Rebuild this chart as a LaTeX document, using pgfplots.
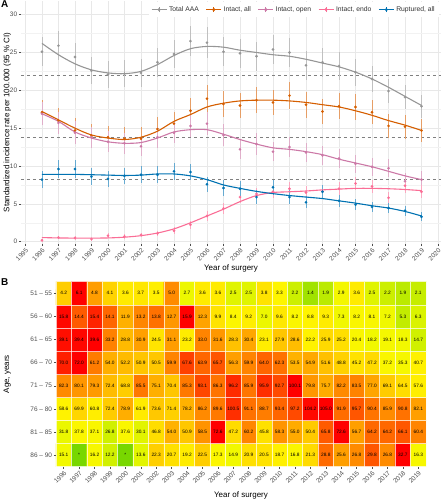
\documentclass[border=0pt]{standalone}
\usepackage{pgfplots}
\pgfplotsset{compat=1.18}
\usepackage{pgfplotstable}
\usepackage{fontspec}
\setmainfont{Liberation Sans}

\definecolor{cgray}{RGB}{150,150,150}
\definecolor{corange}{RGB}{213,94,0}
\definecolor{copen}{RGB}{204,121,167}
\definecolor{cendo}{RGB}{250,110,150}
\definecolor{cblue}{RGB}{0,114,178}
\definecolor{tickgray}{RGB}{77,77,77}
\definecolor{gridc}{RGB}{232,232,232}
\definecolor{gridm}{RGB}{242,242,242}

% yr value halfCI smooth
\pgfplotstableread{
yr v e s
1996 25.1 1.9 26.2
1997 25.9 1.9 24.7
1998 24.4 1.9 23.5
1999 22.6 1.8 22.7
2000 22.1 1.8 22.3
2001 22.2 1.8 22.2
2002 22.3 1.8 22.5
2003 23.7 1.9 23.4
2004 24.8 1.9 24.6
2005 26.5 2.0 25.5
2006 26.3 2.0 25.8
2007 25.1 1.9 25.7
2008 24.9 1.9 25.3
2009 24.5 1.9 25.0
2010 25.4 1.9 24.7
2011 25.0 1.9 24.5
2012 23.3 1.9 24.1
2013 23.7 1.9 23.6
2014 23.2 1.8 23.1
2015 22.4 1.8 22.4
2016 21.5 1.7 21.5
2017 19.9 1.6 20.4
2018 19.1 1.6 19.2
2019 17.9 1.5 18.0
}\total

\pgfplotstableread{
yr v e s
1996 17.1 1.6 17.2
1997 16.0 1.6 16.1
1998 14.7 1.6 15.0
1999 14.0 1.5 14.1
2000 13.8 1.5 13.7
2001 13.6 1.5 13.5
2002 13.6 1.5 13.8
2003 14.9 1.6 14.6
2004 15.6 1.6 15.9
2005 17.3 1.7 16.8
2006 18.9 1.8 17.8
2007 18.2 1.7 18.3
2008 18.0 1.7 18.6
2009 18.7 1.7 18.7
2010 18.4 1.7 18.7
2011 19.3 1.8 18.6
2012 18.1 1.7 18.4
2013 17.2 1.7 18.1
2014 17.9 1.7 17.8
2015 17.8 1.7 17.3
2016 17.1 1.6 16.7
2017 15.3 1.6 16.0
2018 15.2 1.6 15.4
2019 14.7 1.5 14.7
}\intall

\pgfplotstableread{
yr v e s
1996 16.9 1.5 16.9
1997 15.7 1.5 15.9
1998 14.4 1.5 14.5
1999 13.8 1.4 13.7
2000 13.2 1.4 13.2
2001 13.0 1.4 13.0
2002 12.6 1.3 13.1
2003 13.8 1.4 13.7
2004 14.4 1.4 14.5
2005 15.3 1.5 14.8
2006 15.6 1.5 14.8
2007 14.1 1.4 14.2
2008 12.2 1.3 13.5
2009 12.9 1.4 12.9
2010 11.9 1.3 12.4
2011 12.5 1.3 12.2
2012 11.8 1.3 11.9
2013 11.4 1.3 11.5
2014 11.0 1.3 10.9
2015 10.3 1.2 10.4
2016 9.9 1.2 9.9
2017 9.7 1.2 9.3
2018 8.0 1.1 8.7
2019 8.2 1.1 8.2
}\intopen

\pgfplotstableread{
yr v e s
1996 0.2 0.2 0.55
1997 0.55 0.25 0.5
1998 0.5 0.25 0.48
1999 0.35 0.2 0.48
2000 0.8 0.3 0.5
2001 0.7 0.3 0.6
2002 0.9 0.3 0.8
2003 1.1 0.35 1.15
2004 1.45 0.45 1.7
2005 2.25 0.55 2.5
2006 3.4 0.65 3.4
2007 4.4 0.75 4.3
2008 5.9 0.8 5.3
2009 6.3 0.85 6.1
2010 6.6 0.85 6.5
2011 7.0 0.85 6.6
2012 6.5 0.85 6.7
2013 6.65 0.85 6.85
2014 7.0 0.85 6.95
2015 7.7 0.9 7.05
2016 7.3 0.9 7.05
2017 5.8 0.8 7.0
2018 7.4 0.9 6.9
2019 6.6 0.85 6.75
}\intendo

\pgfplotstableread{
yr v e s
1996 8.2 1.1 8.9
1997 9.6 1.2 8.9
1998 9.6 1.2 8.9
1999 8.6 1.1 8.85
2000 8.3 1.1 8.8
2001 8.7 1.1 8.75
2002 8.85 1.1 8.8
2003 8.85 1.1 8.95
2004 9.3 1.1 8.95
2005 9.2 1.1 8.7
2006 7.6 1.0 8.2
2007 7.1 1.0 7.5
2008 7.0 1.0 7.05
2009 5.9 0.9 6.65
2010 7.2 1.0 6.35
2011 5.9 0.9 6.1
2012 5.2 0.8 5.9
2013 6.6 0.9 5.7
2014 5.4 0.8 5.4
2015 4.9 0.7 5.1
2016 4.6 0.7 4.75
2017 4.45 0.7 4.45
2018 4.1 0.65 4.0
2019 3.3 0.6 3.4
}\rupt

% x=year, y=age group (1 = 86-90 ... 8 = 51-55), v=value, m=row max, lab=label
\pgfplotstableread{
x y v m lab
1996 1 15.1 32.7 15.1
1997 1 0 32.7 *
1998 1 16.2 32.7 16.2
1999 1 12.2 32.7 12.2
2000 1 0 32.7 *
2001 1 13.6 32.7 13.6
2002 1 22.3 32.7 22.3
2003 1 20.7 32.7 20.7
2004 1 19.2 32.7 19.2
2005 1 22.5 32.7 22.5
2006 1 17.3 32.7 17.3
2007 1 14.9 32.7 14.9
2008 1 20.9 32.7 20.9
2009 1 20.5 32.7 20.5
2010 1 18.7 32.7 18.7
2011 1 16.8 32.7 16.8
2012 1 21.3 32.7 21.3
2013 1 28.8 32.7 28.8
2014 1 25.6 32.7 25.6
2015 1 26.8 32.7 26.8
2016 1 29.8 32.7 29.8
2017 1 26.8 32.7 26.8
2018 1 32.7 32.7 32.7
2019 1 16.3 32.7 16.3
1996 2 31.8 72.6 31.8
1997 2 37.8 72.6 37.8
1998 2 37.1 72.6 37.1
1999 2 26.8 72.6 26.8
2000 2 37.6 72.6 37.6
2001 2 30.1 72.6 30.1
2002 2 46.8 72.6 46.8
2003 2 54.0 72.6 54.0
2004 2 50.9 72.6 50.9
2005 2 58.5 72.6 58.5
2006 2 72.6 72.6 72.6
2007 2 47.2 72.6 47.2
2008 2 60.2 72.6 60.2
2009 2 45.8 72.6 45.8
2010 2 58.3 72.6 58.3
2011 2 55.0 72.6 55.0
2012 2 50.4 72.6 50.4
2013 2 65.8 72.6 65.8
2014 2 72.6 72.6 72.6
2015 2 56.7 72.6 56.7
2016 2 64.2 72.6 64.2
2017 2 64.2 72.6 64.2
2018 2 66.1 72.6 66.1
2019 2 60.4 72.6 60.4
1996 3 58.6 105.0 58.6
1997 3 69.9 105.0 69.9
1998 3 60.8 105.0 60.8
1999 3 72.4 105.0 72.4
2000 3 78.9 105.0 78.9
2001 3 61.9 105.0 61.9
2002 3 73.6 105.0 73.6
2003 3 71.4 105.0 71.4
2004 3 78.2 105.0 78.2
2005 3 86.2 105.0 86.2
2006 3 89.6 105.0 89.6
2007 3 100.5 105.0 100.5
2008 3 91.1 105.0 91.1
2009 3 88.7 105.0 88.7
2010 3 93.4 105.0 93.4
2011 3 97.2 105.0 97.2
2012 3 104.2 105.0 104.2
2013 3 105.0 105.0 105.0
2014 3 91.9 105.0 91.9
2015 3 95.7 105.0 95.7
2016 3 90.4 105.0 90.4
2017 3 85.9 105.0 85.9
2018 3 90.8 105.0 90.8
2019 3 82.1 105.0 82.1
1996 4 82.3 100.1 82.3
1997 4 80.1 100.1 80.1
1998 4 79.3 100.1 79.3
1999 4 72.4 100.1 72.4
2000 4 68.8 100.1 68.8
2001 4 85.5 100.1 85.5
2002 4 75.1 100.1 75.1
2003 4 70.4 100.1 70.4
2004 4 85.3 100.1 85.3
2005 4 93.1 100.1 93.1
2006 4 86.3 100.1 86.3
2007 4 96.2 100.1 96.2
2008 4 85.9 100.1 85.9
2009 4 95.9 100.1 95.9
2010 4 92.7 100.1 92.7
2011 4 100.1 100.1 100.1
2012 4 79.8 100.1 79.8
2013 4 75.7 100.1 75.7
2014 4 82.2 100.1 82.2
2015 4 83.5 100.1 83.5
2016 4 77.0 100.1 77.0
2017 4 69.1 100.1 69.1
2018 4 64.5 100.1 64.5
2019 4 57.6 100.1 57.6
1996 5 70.0 72.0 70.0
1997 5 72.0 72.0 72.0
1998 5 61.2 72.0 61.2
1999 5 54.0 72.0 54.0
2000 5 52.2 72.0 52.2
2001 5 50.9 72.0 50.9
2002 5 50.5 72.0 50.5
2003 5 59.9 72.0 59.9
2004 5 67.6 72.0 67.6
2005 5 63.9 72.0 63.9
2006 5 65.7 72.0 65.7
2007 5 56.3 72.0 56.3
2008 5 59.9 72.0 59.9
2009 5 64.0 72.0 64.0
2010 5 62.3 72.0 62.3
2011 5 53.5 72.0 53.5
2012 5 54.9 72.0 54.9
2013 5 51.6 72.0 51.6
2014 5 48.8 72.0 48.8
2015 5 45.2 72.0 45.2
2016 5 47.2 72.0 47.2
2017 5 37.2 72.0 37.2
2018 5 35.3 72.0 35.3
2019 5 40.7 72.0 40.7
1996 6 39.1 39.6 39.1
1997 6 39.4 39.6 39.4
1998 6 39.6 39.6 39.6
1999 6 33.2 39.6 33.2
2000 6 28.8 39.6 28.8
2001 6 30.9 39.6 30.9
2002 6 24.5 39.6 24.5
2003 6 31.1 39.6 31.1
2004 6 23.2 39.6 23.2
2005 6 33.0 39.6 33.0
2006 6 31.6 39.6 31.6
2007 6 28.3 39.6 28.3
2008 6 30.4 39.6 30.4
2009 6 23.1 39.6 23.1
2010 6 27.9 39.6 27.9
2011 6 28.6 39.6 28.6
2012 6 22.2 39.6 22.2
2013 6 25.9 39.6 25.9
2014 6 25.2 39.6 25.2
2015 6 20.4 39.6 20.4
2016 6 18.2 39.6 18.2
2017 6 19.1 39.6 19.1
2018 6 18.3 39.6 18.3
2019 6 14.7 39.6 14.7
1996 7 15.8 15.9 15.8
1997 7 14.4 15.9 14.4
1998 7 15.4 15.9 15.4
1999 7 14.1 15.9 14.1
2000 7 11.9 15.9 11.9
2001 7 13.2 15.9 13.2
2002 7 13.8 15.9 13.8
2003 7 12.7 15.9 12.7
2004 7 15.9 15.9 15.9
2005 7 12.3 15.9 12.3
2006 7 9.9 15.9 9.9
2007 7 8.4 15.9 8.4
2008 7 9.2 15.9 9.2
2009 7 7.0 15.9 7.0
2010 7 9.6 15.9 9.6
2011 7 8.2 15.9 8.2
2012 7 8.8 15.9 8.8
2013 7 9.3 15.9 9.3
2014 7 7.3 15.9 7.3
2015 7 8.2 15.9 8.2
2016 7 8.1 15.9 8.1
2017 7 7.2 15.9 7.2
2018 7 5.3 15.9 5.3
2019 7 6.3 15.9 6.3
1996 8 4.2 6.1 4.2
1997 8 6.1 6.1 6.1
1998 8 4.8 6.1 4.8
1999 8 4.1 6.1 4.1
2000 8 3.6 6.1 3.6
2001 8 3.7 6.1 3.7
2002 8 3.5 6.1 3.5
2003 8 5.0 6.1 5.0
2004 8 2.7 6.1 2.7
2005 8 3.6 6.1 3.6
2006 8 3.6 6.1 3.6
2007 8 2.5 6.1 2.5
2008 8 2.5 6.1 2.5
2009 8 3.8 6.1 3.8
2010 8 3.3 6.1 3.3
2011 8 2.2 6.1 2.2
2012 8 1.4 6.1 1.4
2013 8 1.9 6.1 1.9
2014 8 2.9 6.1 2.9
2015 8 3.6 6.1 3.6
2016 8 2.5 6.1 2.5
2017 8 2.2 6.1 2.2
2018 8 1.9 6.1 1.9
2019 8 2.1 6.1 2.1
}\heat

\pgfplotsset{
  common/.style={
    axis x line*=bottom, axis y line*=left,
    axis line style={draw=none},
    tick align=outside, major tick length=2.2bp, minor tick length=0bp,
    tick style={draw=tickgray, line width=0.5bp},
    /pgf/number format/1000 sep={},
    /pgf/number format/assume math mode=true,
    ticklabel style={font=\fontsize{6.5}{7}\selectfont, text=tickgray},
    xticklabel style={rotate=45, anchor=north east, inner sep=1bp},
    yticklabel style={inner sep=1.5bp},
    label style={font=\fontsize{8}{9}\selectfont, text=black},
  },
  pr/.style={only marks, color=#1, mark=*, mark size=1.3bp,
    mark options={draw=#1, fill=#1, line width=0.1bp},
    error bars/.cd, y dir=both, y explicit, error mark=none,
    error bar style={line width=0.9bp, color=#1!60}},
  sm/.style={smooth, no marks, line width=1.1bp, color=#1},
}

\begin{document}
\begin{tikzpicture}
\useasboundingbox (0bp,0bp) rectangle (443bp,500bp);

\begin{axis}[common,
  at={(21bp,256bp)}, anchor=south west,
  scale only axis, width=420bp, height=243bp,
  xmin=1994.73, xmax=2020.18, ymin=-0.3, ymax=31.8,
  xtick={1995,...,2020}, ytick={0,5,...,30},
  minor x tick num=1, minor y tick num=1,
  xmajorgrids, ymajorgrids, xminorgrids, yminorgrids,
  major grid style={draw=gridc, line width=0.55bp},
  minor grid style={draw=gridm, line width=0.3bp},
  xlabel={Year of surgery},
  xlabel style={at={(axis description cs:0.5,0)}, anchor=north, yshift=-17bp},
  ylabel={Standardized incidence rate per 100.000 (95 \% CI)},
  ylabel style={at={(axis description cs:-0.05,0.5)}, anchor=north},
  legend style={at={(0.995,0.995)}, anchor=north east, draw=none, fill=white,
    inner sep=2bp, font=\fontsize{6.8}{8}\selectfont, text=black!80,
    /tikz/every even column/.append style={column sep=5bp}},
  legend columns=5,
  legend image code/.code={
    \draw[#1, line width=0.9bp] (0bp,0bp) -- (15bp,0bp);
    \draw[#1, line width=0.6bp] (7.5bp,-2.5bp) -- (7.5bp,2.5bp);
    \fill[#1] (7.5bp,0bp) circle (1.4bp);
  },
]
\addlegendimage{color=cgray}\addlegendentry{Total AAA}
\addlegendimage{color=corange}\addlegendentry{Intact, all}
\addlegendimage{color=copen}\addlegendentry{Intact, open}
\addlegendimage{color=cendo}\addlegendentry{Intact, endo}
\addlegendimage{color=cblue}\addlegendentry{Ruptured, all}

\draw[dashed, color=black!50, line width=0.5bp] (axis cs:1994.73,22.0) -- (axis cs:2020.18,22.0);
\draw[dashed, color=black!50, line width=0.5bp] (axis cs:1994.73,13.8) -- (axis cs:2020.18,13.8);
\draw[dashed, color=black!50, line width=0.5bp] (axis cs:1994.73,8.25) -- (axis cs:2020.18,8.25);

\addplot[forget plot, pr=cgray] table[x=yr, y=v, y error=e] {\total};
\addplot[forget plot, pr=corange] table[x=yr, y=v, y error=e] {\intall};
\addplot[forget plot, pr=copen] table[x=yr, y=v, y error=e] {\intopen};
\addplot[forget plot, pr=cendo] table[x=yr, y=v, y error=e] {\intendo};
\addplot[forget plot, pr=cblue] table[x=yr, y=v, y error=e] {\rupt};

\addplot[forget plot, sm=cgray] table[x=yr, y=s] {\total};
\addplot[forget plot, sm=corange] table[x=yr, y=s] {\intall};
\addplot[forget plot, sm=copen] table[x=yr, y=s] {\intopen};
\addplot[forget plot, sm=cendo] table[x=yr, y=s] {\intendo};
\addplot[forget plot, sm=cblue] table[x=yr, y=s] {\rupt};
\end{axis}

\begin{axis}[common,
  at={(56bp,33.3bp)}, anchor=south west,
  scale only axis, width=370bp, height=185bp,
  xmin=1995.5, xmax=2019.5, ymin=0.5, ymax=8.5,
  xtick={1996,...,2019}, ytick={1,...,8},
  yticklabels={86 -- 90, 81 -- 85, 76 -- 80, 71 -- 75, 66 -- 70, 61 -- 65, 56 -- 60, 51 -- 55},
  minor xtick={1995.5,1996.5,...,2019.5}, minor ytick={0.5,1.5,...,8.5},
  xminorgrids, yminorgrids,
  minor grid style={draw=white, line width=0.5bp, opacity=0.7},
  axis on top,
  colormap={heat}{rgb255(0cm)=(120,215,0) rgb255(25cm)=(165,228,0) rgb255(35cm)=(200,238,0)
    rgb255(45cm)=(240,248,0) rgb255(55cm)=(255,245,0) rgb255(65cm)=(255,220,0)
    rgb255(70cm)=(255,200,0) rgb255(80cm)=(255,150,0) rgb255(90cm)=(255,95,0)
    rgb255(95cm)=(255,55,0) rgb255(100cm)=(255,0,0)},
  point meta min=0, point meta max=1,
  xlabel={Year of surgery},
  xlabel style={at={(axis description cs:0.5,0)}, anchor=north, yshift=-22bp},
  ylabel={Age, years},
  ylabel style={at={(axis description cs:-0.151,0.5)}, anchor=north},
]
\addplot[matrix plot*, mesh/cols=24, mesh/rows=8, point meta={\thisrow{v}/\thisrow{m}}]
  table[x=x, y=y] {\heat};
\addplot[only marks, mark=none, point meta=explicit symbolic,
  nodes near coords, nodes near coords align={center},
  every node near coord/.append style={font=\fontsize{4.8}{5}\selectfont, text=black, inner sep=0bp}]
  table[x=x, y=y, meta=lab] {\heat};
\end{axis}

\node[anchor=base west, inner sep=0bp, font=\fontsize{10}{11}\selectfont\bfseries] at (1bp,492bp) {A};
\node[anchor=base west, inner sep=0bp, font=\fontsize{10}{11}\selectfont\bfseries] at (1bp,214bp) {B};
\end{tikzpicture}
\end{document}
